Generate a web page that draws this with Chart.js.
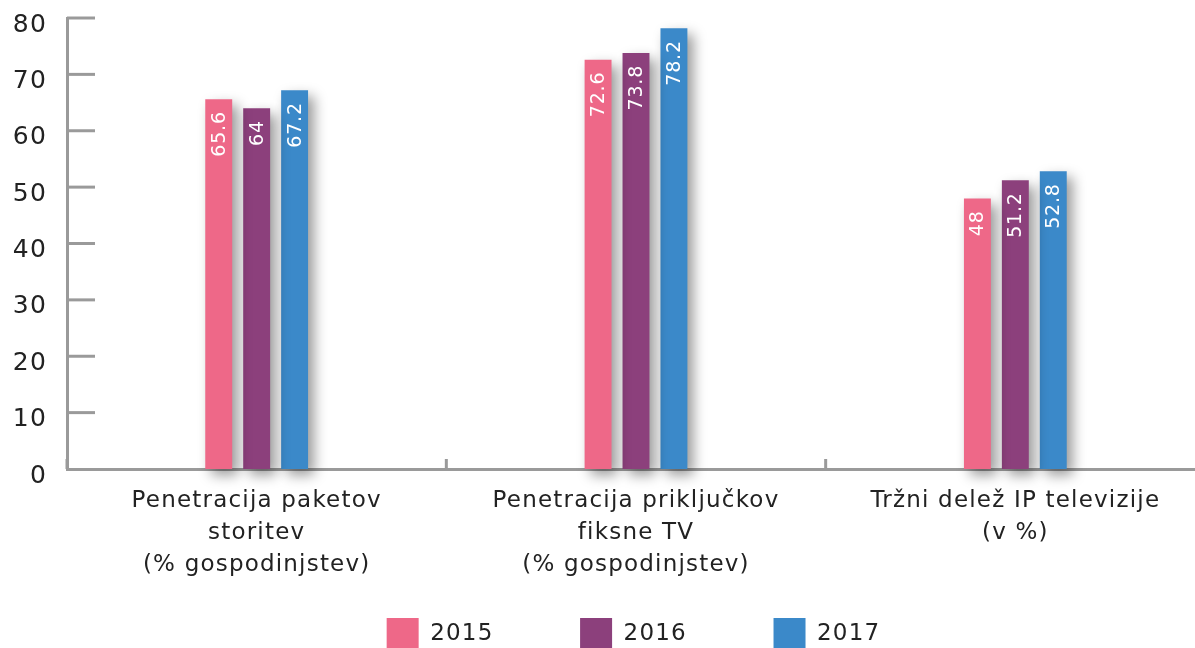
<!DOCTYPE html>
<html>
<head>
<meta charset="utf-8">
<script src="https://cdn.jsdelivr.net/npm/chart.js@4/dist/chart.umd.min.js"></script>
<style>
  html, body { margin: 0; padding: 0; overflow: hidden; background: #fff; }
  #wrap { width: 1205px; height: 660px; }
</style>
</head>
<body>
<div id="wrap"><canvas id="c" width="1205" height="660"></canvas></div>
<script>
const categories = [
  ["Penetracija paketov", "storitev", "(% gospodinjstev)"],
  ["Penetracija priključkov", "fiksne TV", "(% gospodinjstev)"],
  ["Tržni delež IP televizije", "(v %)"]
];
const years = ["2015", "2016", "2017"];
const values2015 = [65.6, 72.6, 48];
const values2016 = [64, 73.8, 51.2];
const values2017 = [67.2, 78.2, 52.8];
const yMin = 0, yMax = 80, yStep = 10;

const colors = ["#ee6888", "#8c407c", "#3b89c9"];
const axisGray = "#9a9a9a";
const FONT = "DejaVu Sans";
const SPACING = "1.2px";

const spacingPlugin = {
  id: "spacing",
  beforeInit(chart) { chart.ctx.letterSpacing = SPACING; },
  beforeUpdate(chart) { chart.ctx.letterSpacing = SPACING; },
  beforeDraw(chart) { chart.ctx.letterSpacing = SPACING; }
};

const decoPlugin = {
  id: "deco",
  beforeDatasetsDraw(chart) {
    const ctx = chart.ctx;
    const y = chart.scales.y, x = chart.scales.x;
    ctx.save();
    ctx.strokeStyle = axisGray;
    ctx.lineWidth = 3;
    ctx.lineCap = "butt";
    for (let v = yMin + yStep; v <= yMax; v += yStep) {
      const py = y.getPixelForValue(v);
      ctx.beginPath();
      ctx.moveTo(x.left, py);
      ctx.lineTo(x.left + 28, py);
      ctx.stroke();
    }
    const n = chart.data.labels.length;
    const w = (x.right - x.left) / n;
    for (let i = 0; i <= n; i++) {
      const px = x.getPixelForValue(0) - w / 2 + i * w;
      ctx.beginPath();
      ctx.moveTo(px, y.bottom);
      ctx.lineTo(px, y.bottom - 10);
      ctx.stroke();
    }
    ctx.restore();
    ctx.save();
    ctx.shadowColor = "rgba(0,0,0,0.4)";
    ctx.shadowBlur = 13;
    ctx.shadowOffsetX = 6;
    ctx.shadowOffsetY = 6;
  },
  afterDatasetsDraw(chart) {
    const ctx = chart.ctx;
    ctx.restore();
    ctx.save();
    ctx.fillStyle = "#ffffff";
    ctx.font = "19px " + FONT;
    ctx.letterSpacing = "0.8px";
    ctx.textAlign = "right";
    ctx.textBaseline = "middle";
    chart.data.datasets.forEach((ds, di) => {
      const meta = chart.getDatasetMeta(di);
      meta.data.forEach((bar, i) => {
        ctx.save();
        ctx.translate(bar.x + 1, bar.y + 12);
        ctx.rotate(-Math.PI / 2);
        ctx.fillText(String(ds.data[i]), 0, 0);
        ctx.restore();
      });
    });
    ctx.restore();
  }
};

const legendGap = "         ";

new Chart(document.getElementById("c"), {
  type: "bar",
  data: {
    labels: categories,
    datasets: [
      { label: years[0], data: values2015, backgroundColor: colors[0] },
      { label: years[1], data: values2016, backgroundColor: colors[1] },
      { label: years[2], data: values2017, backgroundColor: colors[2] }
    ]
  },
  options: {
    responsive: false,
    animation: false,
    devicePixelRatio: 1,
    layout: { padding: { top: 18, left: 0, right: 0, bottom: 0 } },
    datasets: { bar: { categoryPercentage: 0.3, barPercentage: 0.71, clip: false } },
    plugins: {
      tooltip: { enabled: false },
      legend: {
        position: "bottom",
        labels: {
          boxWidth: 32,
          boxHeight: 32,
          padding: 10,
          color: "#222",
          font: { family: FONT, size: 23 },
          generateLabels(chart) {
            const n = chart.data.datasets.length;
            const items = [{
              text: " ",
              fillStyle: "rgba(0,0,0,0)",
              strokeStyle: "rgba(0,0,0,0)",
              lineWidth: 0,
              fontColor: "rgba(0,0,0,0)"
            }];
            chart.data.datasets.forEach((ds, i) => items.push({
              text: ds.label + (i < n - 1 ? legendGap : ""),
              fillStyle: ds.backgroundColor,
              strokeStyle: ds.backgroundColor,
              lineWidth: 0,
              datasetIndex: i,
              fontColor: "#222"
            }));
            return items;
          }
        }
      }
    },
    scales: {
      x: {
        offset: true,
        grid: { display: false, drawTicks: false },
        border: { display: true, color: axisGray, width: 3 },
        ticks: {
          color: "#222",
          font: { family: FONT, size: 23, lineHeight: 1.39 },
          padding: 16,
          maxRotation: 0,
          autoSkip: false
        },
        afterFit(scale) { scale.height = 139; }
      },
      y: {
        min: yMin,
        max: yMax,
        grid: { display: false, drawTicks: false },
        border: { display: true, color: axisGray, width: 3 },
        ticks: {
          stepSize: yStep,
          color: "#222",
          font: { family: FONT, size: 25 },
          padding: 20,
          labelOffset: 7
        },
        afterFit(scale) {
          scale.width = 67;
          scale.paddingTop = 0;
          scale.paddingBottom = 0;
        }
      }
    }
  },
  plugins: [spacingPlugin, decoPlugin]
});
</script>
</body>
</html>
